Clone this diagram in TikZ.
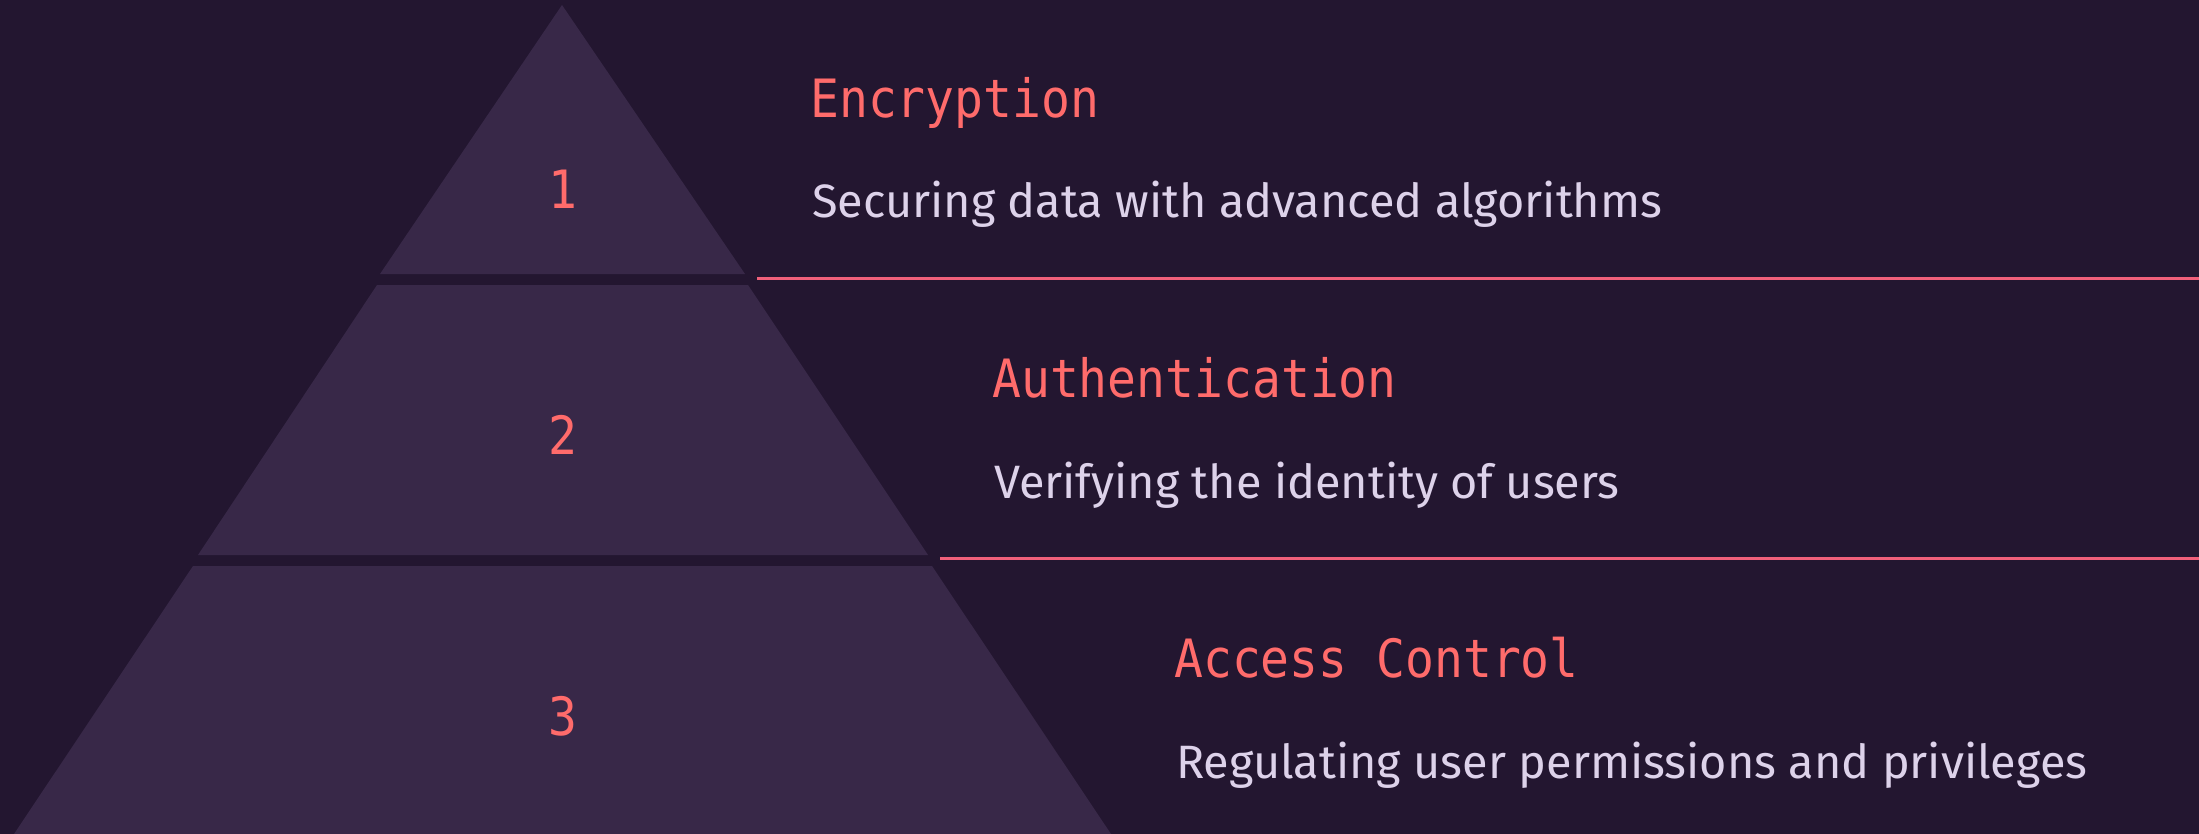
\documentclass[tikz,border=0pt]{standalone}
\usepackage{fontspec}
\setmainfont{Fira Sans}
\newfontfamily\monofont{DejaVu Sans Mono}
\definecolor{bg}{HTML}{231630}
\definecolor{tier}{HTML}{382848}
\definecolor{coral}{HTML}{FF6B6B}
\definecolor{lav}{HTML}{DDD2EA}
\definecolor{sep}{HTML}{F0607A}
\begin{document}
\begin{tikzpicture}[x=1pt,y=-1pt,
  tierfill/.style={fill=tier,draw=none},
  titletext/.style={anchor=base west,inner sep=0pt,text=coral,font=\monofont\fontsize{48}{56}\selectfont},
  numtext/.style={anchor=base,inner sep=0pt,text=coral,font=\monofont\fontsize{48}{56}\selectfont},
  desctext/.style={anchor=base west,inner sep=0pt,text=lav,font=\fontsize{46.8}{56}\selectfont},
  sepline/.style={draw=sep,line width=3pt}]
\fill[bg] (0,0) rectangle (2199,834);
\useasboundingbox (0,0) rectangle (2199,834);
% pyramid tiers
\fill[tierfill] (562,5) -- (745,274) -- (380,274) -- cycle;
\fill[tierfill] (377,285) -- (748,285) -- (928,555) -- (198,555) -- cycle;
\fill[tierfill] (193,566) -- (932,566) -- (1111,834) -- (14,834) -- cycle;
% numbers
\node[numtext] (n1) at (562.5,208.3) {\scalebox{1}[1.1]{1}};
\node[numtext] (n2) at (562.5,454.3) {\scalebox{1}[1.1]{2}};
\node[numtext] (n3) at (562.5,735) {\scalebox{1}[1.1]{3}};
% separators
\coordinate (s1a) at (757,278.5);
\coordinate (s1b) at (2199,278.5);
\coordinate (s2a) at (940,558.3);
\coordinate (s2b) at (2199,558.3);
\draw[sepline] (s1a) -- (s1b);
\draw[sepline] (s2a) -- (s2b);
% texts
\node[titletext] (t1) at (810,117.3) {\scalebox{1}[1.1]{Encryption}};
\node[desctext] (d1) at (812,217.7) {Securing data with advanced algorithms};
\node[titletext] (t2) at (992,397.3) {\scalebox{1}[1.1]{Authentication}};
\node[desctext] (d2) at (994,498) {Verifying the identity of users};
\node[titletext] (t3) at (1174,677.3) {\scalebox{1}[1.1]{Access Control}};
\node[desctext] (d3) at (1176,778.5) {Regulating user permissions and privileges};
\end{tikzpicture}
\end{document}
